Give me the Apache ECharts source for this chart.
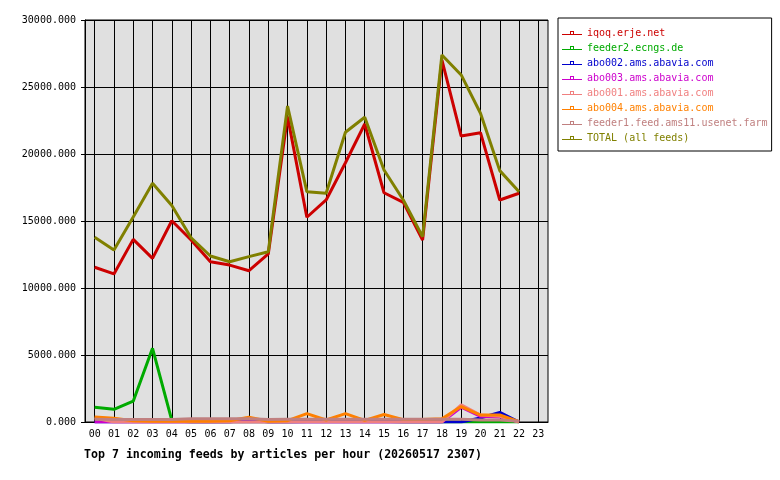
<!DOCTYPE html>
<html>
<head>
<meta charset="utf-8">
<script src="https://cdn.jsdelivr.net/npm/echarts@6/dist/echarts.min.js"></script>
<style>
  html, body { margin: 0; padding: 0; background: #fff; }
  #chart { width: 780px; height: 480px; }
</style>
</head>
<body>
<div id="chart"></div>
<script>
const hours = ["00","01","02","03","04","05","06","07","08","09","10","11",
  "12","13","14","15","16","17","18","19","20","21","22","23"];

const iqoq = [11550, 11050, 13630, 12210, 15020, 13580, 11960, 11710, 11290, 12540, 22790, 15280,
  16570, 19350, 22240, 17110, 16390, 13580, 27020, 21340, 21590, 16570, 17070];
const feeder2 = [1100, 950, 1550, 5500, 120, 0, 0, 0, 0, 0, 0, 40,
  60, 60, 30, 50, 0, 0, 20, 0, 0, 0, 0];
const abo002 = [0, 0, 0, 0, 0, 0, 0, 0, 200, 0, 0, 0,
  0, 0, 0, 0, 0, 0, 0, 0, 300, 720, 0];
const abo003 = [0, 0, 0, 0, 0, 0, 0, 0, 0, 0, 0, 0,
  0, 0, 0, 0, 0, 0, 0, 1100, 420, 380, 0];
const abo001 = [300, 0, 0, 0, 0, 0, 0, 0, 0, 0, 0, 0,
  0, 0, 0, 0, 0, 0, 0, 1280, 520, 420, 0];
const abo004 = [380, 280, 100, 50, 50, 50, 50, 100, 350, 50, 100, 620,
  150, 620, 120, 560, 180, 180, 250, 1150, 520, 520, 30];
const feeder1 = [200, 180, 180, 180, 180, 250, 250, 250, 250, 180, 200, 200,
  200, 200, 200, 200, 200, 200, 200, 200, 150, 150, 50];
const total = [13780, 12840, 15300, 17810, 16150, 13750, 12390, 11960, 12340, 12710, 23580, 17190,
  17070, 21620, 22740, 18810, 16570, 13830, 27390, 25900, 23040, 18760, 17190];

const feeds = [
  { name: "iqoq.erje.net", color: "#cc0000", data: iqoq },
  { name: "feeder2.ecngs.de", color: "#00aa00", data: feeder2 },
  { name: "abo002.ams.abavia.com", color: "#0000cc", data: abo002 },
  { name: "abo003.ams.abavia.com", color: "#cc00cc", data: abo003 },
  { name: "abo001.ams.abavia.com", color: "#f08080", data: abo001 },
  { name: "abo004.ams.abavia.com", color: "#ff8000", data: abo004 },
  { name: "feeder1.feed.ams11.usenet.farm", color: "#c08080", data: feeder1 },
  { name: "TOTAL (all feeds)", color: "#808000", data: total },
];

const MONO = "'DejaVu Sans Mono', 'Liberation Mono', monospace";
// line with a small hollow square in the middle
const LEGEND_ICON = "path://M0,3H8V0H12V3H20V4H0Z M9,1V3H11V1Z";

const chart = echarts.init(document.getElementById("chart"), null, { renderer: "canvas" });

chart.setOption({
  animation: false,
  backgroundColor: "#fff",
  title: {
    text: "Top 7 incoming feeds by articles per hour (20260517 2307)",
    left: 79,
    top: 444,
    textStyle: { fontFamily: MONO, fontSize: 11.6, fontWeight: "bold", color: "#000" },
  },
  legend: {
    orient: "vertical",
    left: 558,
    top: 18,
    padding: [9, 4, 7, 4],
    itemGap: 3,
    itemWidth: 20,
    itemHeight: 4,
    icon: LEGEND_ICON,
    backgroundColor: "#fff",
    borderColor: "#000",
    borderWidth: 1,
    borderRadius: 0,
    selectedMode: false,
    textStyle: { fontFamily: MONO, fontSize: 10, lineHeight: 12 },
    data: feeds.map((f) => ({ name: f.name, textStyle: { color: f.color } })),
  },
  grid: {
    left: 85,
    top: 20,
    right: 232,
    bottom: 58,
    show: true,
    backgroundColor: "#e0e0e0",
    borderColor: "#000",
    borderWidth: 1,
  },
  xAxis: {
    type: "category",
    data: hours,
    boundaryGap: true,
    axisLine: { lineStyle: { color: "#000", width: 1 } },
    axisTick: { alignWithLabel: true, interval: 0, length: 5, lineStyle: { color: "#000" } },
    axisLabel: { color: "#000", fontFamily: MONO, fontSize: 10, margin: 7, interval: 0 },
    splitLine: { show: false },
  },
  yAxis: {
    type: "value",
    min: 0,
    max: 30000,
    interval: 5000,
    axisLine: { show: true, lineStyle: { color: "#000" } },
    axisTick: { show: true, length: 4, lineStyle: { color: "#000" } },
    axisLabel: {
      color: "#000",
      fontFamily: MONO,
      fontSize: 10,
      margin: 9,
      formatter: (v) => v.toFixed(3),
    },
    splitLine: { show: true, lineStyle: { color: "#000", width: 1 } },
  },
  series: feeds.map((f, i) => ({
    name: f.name,
    type: "line",
    data: f.data,
    symbol: "none",
    color: f.color,
    lineStyle: { color: f.color, width: 3 },
    emphasis: { disabled: true },
    // vertical grid lines at each hour, kept under the lines
    markLine: i === 0 ? {
      silent: true,
      z: 1,
      symbol: ["none", "none"],
      label: { show: false },
      lineStyle: { color: "#000", width: 1, type: "solid" },
      emphasis: { disabled: true },
      data: hours.map((h) => ({ xAxis: h })),
    } : undefined,
  })),
});
</script>
</body>
</html>
